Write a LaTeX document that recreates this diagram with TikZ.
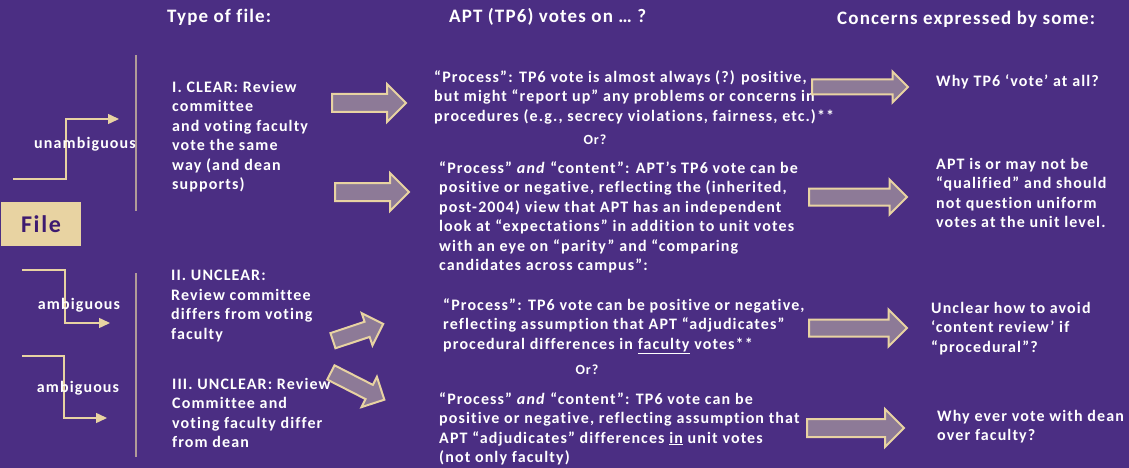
\documentclass[tikz,border=0pt]{standalone}
\usepackage{fontspec}
\setmainfont{Carlito}[LetterSpace=7, Ligatures=NoCommon]
\newfontfamily\headfont{Carlito}[LetterSpace=6, Ligatures=NoCommon]
\usetikzlibrary{arrows.meta,shapes.arrows}

\definecolor{uwpurple}{HTML}{4B2E83}
\definecolor{uwgold}{HTML}{E8D3A2}
\definecolor{arrowfill}{HTML}{8D7A97}
\definecolor{railgray}{HTML}{B19C98}
\definecolor{filetext}{HTML}{3D1A70}

\tikzset{
  hdr/.style={font=\headfont\fontsize{19}{22}\selectfont\bfseries, text=white, inner sep=0pt, anchor=west},
  body/.style={font=\fontsize{16}{19.5}\selectfont\bfseries, text=white, inner sep=0pt, align=left, anchor=north west},
  tag/.style={font=\fontsize{16}{18}\selectfont\bfseries, text=white, inner sep=0pt},
  orlabel/.style={font=\fontsize{14}{16}\selectfont\bfseries, text=white, inner sep=0pt},
  rail/.style={draw=railgray, line width=2pt},
  stepline/.style={draw=uwgold, line width=1.5pt, -{Triangle[length=11pt,width=10pt,fill=uwgold]}},
  blockarrow/.style={single arrow, draw=uwgold, fill=arrowfill, line width=2pt,
    inner xsep=0pt, inner ysep=8pt, text height=0pt, text depth=0pt,
    single arrow head extend=10pt, minimum height=74pt, anchor=tail},
  filebox/.style={fill=uwgold, text=filetext, inner sep=0pt, minimum width=80pt, minimum height=44pt,
    font=\fontsize{24}{26}\selectfont\bfseries}
}

\begin{document}
\begin{tikzpicture}[x=1pt,y=-1pt]
  % canvas
  \fill[uwpurple] (0,0) rectangle (1129,468);
  \useasboundingbox (0,0) rectangle (1129,468);

  % column headings
  \node[hdr] (h1) at (167,17) {Type of file:};
  \node[hdr] (h2) at (449,17) {APT (TP6) votes on … ?};
  \node[hdr] (h3) at (837,19) {Concerns expressed by some:};

  % file box
  \node[filebox] (file) at (41,224) {File};

  % vertical rails
  \coordinate (r1a) at (136,55);  \coordinate (r1b) at (136,211);
  \coordinate (r2a) at (136,273); \coordinate (r2b) at (136,457);
  \draw[rail] (r1a) -- (r1b);
  \draw[rail] (r2a) -- (r2b);

  % stepped connectors
  \coordinate (u0) at (13,179);  \coordinate (u1) at (119,119);
  \coordinate (a0) at (22,270);  \coordinate (a1) at (110,323);
  \coordinate (b0) at (22,356);  \coordinate (b1) at (107,418);
  \draw[stepline] (u0) -- (66,179) -- (66,119) -- (u1);
  \draw[stepline] (a0) -- (65,270) -- (65,323) -- (a1);
  \draw[stepline] (b0) -- (64,356) -- (64,418) -- (b1);

  \node[tag] (unamb) at (85,144) {unambiguous};
  \node[tag] (amb1) at (79,305) {ambiguous};
  \node[tag] (amb2) at (78,388) {ambiguous};

  % types of file
  \node[body] (t1) at (172,81) {I. CLEAR: Review\\committee\\and voting faculty\\vote the same\\way (and dean\\supports)};
  \node[body] (t2) at (171,270) {II. UNCLEAR:\\Review committee\\differs from voting\\faculty};
  \node[body] (t3) at (172,378) {III. UNCLEAR: Review\\Committee and\\voting faculty differ\\from dean};

  % what the vote covers
  \node[body] (m1) at (434,70) {“Process”: TP6 vote is almost always (?) positive,\\but might “report up” any problems or concerns in\\procedures (e.g., secrecy violations, fairness, etc.)**};
  \node[orlabel] (or1) at (595,140) {Or?};
  \node[body] (m2) at (439,161) {“Process” \textit{and} “content”: APT’s TP6 vote can be\\positive or negative, reflecting the (inherited,\\post-2004) view that APT has an independent\\look at “expectations” in addition to unit votes\\with an eye on “parity” and “comparing\\candidates across campus”:};
  \node[body] (m3) at (443,298) {“Process”: TP6 vote can be positive or negative,\\reflecting assumption that APT “adjudicates”\\procedural differences in \underline{faculty} votes**};
  \node[orlabel] (or2) at (587,370) {Or?};
  \node[body] (m4) at (439,392) {“Process” \textit{and} “content”: TP6 vote can be\\positive or negative, reflecting assumption that\\APT “adjudicates” differences \underline{in} unit votes\\(not only faculty)};

  % concerns
  \node[body] (c1) at (936,74) {Why TP6 ‘vote’ at all?};
  \node[body] (c2) at (936,158) {APT is or may not be\\“qualified” and should\\not question uniform\\votes at the unit level.};
  \node[body] (c3) at (931,302) {Unclear how to avoid\\‘content review’ if\\“procedural”?};
  \node[body] (c4) at (937,410) {Why ever vote with dean\\over faculty?};

  % block arrows
  \node[blockarrow] (pA) at (331,103) {};
  \node[blockarrow] (pB) at (334,192) {};
  \node[blockarrow, inner ysep=7pt, single arrow head extend=9pt, minimum height=53pt, rotate=18.4] (pC) at (332,341) {};
  \node[blockarrow, inner ysep=7pt, single arrow head extend=9pt, minimum height=60pt, rotate=-27] (pD) at (330,372) {};
  \node[blockarrow, inner ysep=6.5pt, single arrow head extend=8pt, minimum height=96pt] (pE) at (811,87) {};
  \node[blockarrow, inner ysep=7.5pt, single arrow head extend=9pt, minimum height=98pt] (pF) at (808,197) {};
  \node[blockarrow, inner ysep=7.5pt, single arrow head extend=10pt, minimum height=98pt] (pG) at (808,328) {};
  \node[blockarrow, minimum height=97pt] (pH) at (806,428) {};
\end{tikzpicture}
\end{document}
